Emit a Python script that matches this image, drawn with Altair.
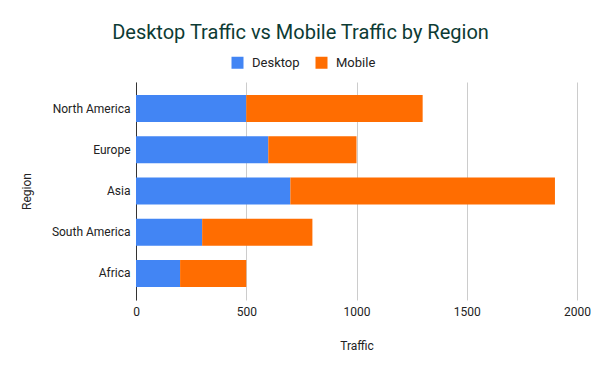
import altair as alt
import pandas as pd

regions = ["North America", "Europe", "Asia", "South America", "Africa"]
desktop = [500, 600, 700, 300, 200]
mobile = [800, 400, 1200, 500, 300]
series = ["Desktop", "Mobile"]
colors = ["#4285F4", "#FF6D01"]

rows = []
for r, d, m in zip(regions, desktop, mobile):
    rows.append({"Region": r, "Type": "Desktop", "Traffic": d, "order": 0})
    rows.append({"Region": r, "Type": "Mobile", "Traffic": m, "order": 1})
df = pd.DataFrame(rows)

FONT = "Roboto"

chart = alt.Chart(df).mark_bar().encode(
    y=alt.Y("Region:N", sort=regions,
            scale=alt.Scale(paddingInner=0.345, paddingOuter=0.315),
            axis=alt.Axis(title="Region", ticks=False, domainColor="#333333",
                          labelPadding=6, labelFontSize=12, labelColor="#222222",
                          titleFontSize=12, titleFontWeight="normal", titleColor="#222222",
                          titlePadding=18, labelFont=FONT, titleFont=FONT)),
    x=alt.X("Traffic:Q", stack="zero",
            scale=alt.Scale(domain=[0, 2000]),
            axis=alt.Axis(title="Traffic", values=[0, 500, 1000, 1500, 2000], ticks=False,
                          format="d", labelFlush=False,
                          domain=False, gridColor="#cccccc", labelFontSize=12,
                          labelColor="#222222", labelPadding=6, titleFontSize=12,
                          titleFontWeight="normal", titleColor="#222222", titlePadding=23,
                          labelFont=FONT, titleFont=FONT)),
    color=alt.Color("Type:N", scale=alt.Scale(domain=series, range=colors),
                    legend=alt.Legend(title=None, orient="none", direction="horizontal",
                                      legendX=95, legendY=-26, symbolType="square",
                                      symbolSize=144, symbolStrokeWidth=0,
                                      labelFontSize=13, labelColor="#222222",
                                      labelOffset=8, labelFont=FONT, columnPadding=15)),
    order=alt.Order("order:Q"),
).properties(
    width=441, height=218,
    autosize=alt.AutoSizeParams(type="none"),
    padding={"left": 128, "top": 74, "right": 15, "bottom": 63},
    title=alt.TitleParams("Desktop Traffic vs Mobile Traffic by Region", fontSize=20,
                          font=FONT, fontWeight="normal", color="#0d3b34",
                          anchor="middle", dx=-56, offset=13),
).configure_view(stroke=None)

chart.save("out.html", embed_options={"renderer": "svg", "actions": False})
